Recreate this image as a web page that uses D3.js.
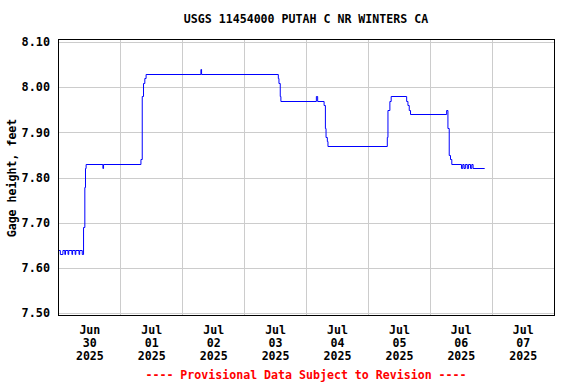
<!DOCTYPE html>
<html>
<head>
<meta charset="utf-8">
<script src="https://cdn.jsdelivr.net/npm/d3@7"></script>
<style>
  body { margin: 0; background: #fff; }
  text { font-family: "DejaVu Sans Mono", monospace; font-weight: bold; }
</style>
</head>
<body>
<div class="gage-graph"></div>
<script>
// gage height readings, step changes only (value holds until next time)
var times = [
  "2025-06-30T00:00", "2025-06-30T00:45", "2025-06-30T01:45", "2025-06-30T02:30", "2025-06-30T02:45",
  "2025-06-30T03:45", "2025-06-30T04:00", "2025-06-30T05:15", "2025-06-30T05:30", "2025-06-30T06:30",
  "2025-06-30T06:45", "2025-06-30T08:00", "2025-06-30T08:15", "2025-06-30T09:15", "2025-06-30T09:45",
  "2025-06-30T10:15", "2025-06-30T10:30", "2025-06-30T10:45", "2025-06-30T17:15", "2025-06-30T17:30",
  "2025-07-01T08:00", "2025-07-01T08:30", "2025-07-01T09:00", "2025-07-01T09:30", "2025-07-01T10:00",
  "2025-07-02T07:15", "2025-07-02T07:30",
  "2025-07-03T13:15", "2025-07-03T13:30", "2025-07-03T14:00", "2025-07-03T14:15",
  "2025-07-04T04:00", "2025-07-04T04:30", "2025-07-04T07:00", "2025-07-04T07:30", "2025-07-04T07:45",
  "2025-07-04T08:15", "2025-07-04T08:30",
  "2025-07-05T07:30", "2025-07-05T07:45", "2025-07-05T08:30", "2025-07-05T09:00",
  "2025-07-05T15:00", "2025-07-05T15:30", "2025-07-05T16:00", "2025-07-05T16:30",
  "2025-07-06T06:30", "2025-07-06T07:00", "2025-07-06T07:30", "2025-07-06T08:00", "2025-07-06T08:30",
  "2025-07-06T12:15", "2025-07-06T12:45", "2025-07-06T13:15", "2025-07-06T13:45", "2025-07-06T14:30",
  "2025-07-06T15:00", "2025-07-06T15:45", "2025-07-06T16:15", "2025-07-06T16:45", "2025-07-06T21:15"
];
var gageHeight = [
  7.64, 7.63, 7.64, 7.63, 7.64,
  7.63, 7.64, 7.63, 7.64, 7.63,
  7.64, 7.63, 7.64, 7.63, 7.69,
  7.78, 7.82, 7.83, 7.82, 7.83,
  7.84, 7.98, 8.01, 8.02, 8.03,
  8.04, 8.03,
  8.02, 8.01, 7.98, 7.97,
  7.98, 7.97, 7.96, 7.91, 7.89,
  7.88, 7.87,
  7.89, 7.95, 7.97, 7.98,
  7.97, 7.96, 7.95, 7.94,
  7.95, 7.91, 7.85, 7.84, 7.83,
  7.82, 7.83, 7.82, 7.83, 7.82,
  7.83, 7.82, 7.83, 7.82, 7.82
];
var yTicks = [7.50, 7.60, 7.70, 7.80, 7.90, 8.00, 8.10];
var dayLabels = ["2025-06-30", "2025-07-01", "2025-07-02", "2025-07-03",
                 "2025-07-04", "2025-07-05", "2025-07-06", "2025-07-07"];

var parse = d3.timeParse("%Y-%m-%dT%H:%M");
var parseDay = d3.timeParse("%Y-%m-%d");
var data = times.map(function (t, i) { return { t: parse(t), v: gageHeight[i] }; });

var width = 576, height = 384;
var plotLeft = 58, plotRight = 554, plotTop = 39, plotBottom = 315;

var svg = d3.select(".gage-graph").append("svg")
    .attr("width", width)
    .attr("height", height);

var x = d3.scaleTime()
    .domain([parseDay("2025-06-30"), parseDay("2025-07-08")])
    .range([plotLeft + 0.4, plotRight - 0.3]);
var y = d3.scaleLinear().domain([7.5, 8.1]).range([313, 42]);

//grid
var midnights = d3.timeDay.range(parseDay("2025-07-01"), parseDay("2025-07-08"));
svg.append("g").selectAll("line").data(midnights).enter().append("line")
    .attr("x1", function (d) { return Math.round(x(d)) + 0.5; })
    .attr("x2", function (d) { return Math.round(x(d)) + 0.5; })
    .attr("y1", plotTop).attr("y2", plotBottom)
    .attr("stroke", "#cccccc");
svg.append("g").selectAll("line").data(yTicks).enter().append("line")
    .attr("x1", plotLeft).attr("x2", plotRight)
    .attr("y1", function (d) { return Math.round(y(d)) + 0.5; })
    .attr("y2", function (d) { return Math.round(y(d)) + 0.5; })
    .attr("stroke", "#cccccc");

//series
var line = d3.line()
    .x(function (d) { return x(d.t); })
    .y(function (d) { return Math.round(y(d.v)) + 0.5; })
    .curve(d3.curveStepAfter);
svg.append("path").datum(data)
    .attr("d", line)
    .attr("fill", "none")
    .attr("stroke", "#0000ff")
    .attr("stroke-width", 1);

//frame
svg.append("rect")
    .attr("x", plotLeft + 0.5).attr("y", plotTop + 0.5)
    .attr("width", plotRight - plotLeft).attr("height", plotBottom - plotTop)
    .attr("fill", "none").attr("stroke", "#000");

//y axis labels
var yAxis = d3.axisLeft(y).tickValues(yTicks).tickFormat(d3.format(".2f")).tickSize(0).tickPadding(8);
var gy = svg.append("g").attr("transform", "translate(" + plotLeft + ",0)").call(yAxis);
gy.select(".domain").remove();
gy.selectAll("text").attr("font-size", 11.8).attr("font-family", null).attr("fill", "#000");

//x axis labels at noon of each day
var noons = dayLabels.map(function (d) { return d3.timeHour.offset(parseDay(d), 12); });
var xAxis = d3.axisBottom(x).tickValues(noons).tickSize(0).tickFormat("");
var gx = svg.append("g").attr("transform", "translate(0," + plotBottom + ")").call(xAxis);
gx.select(".domain").remove();
var fmt = [d3.timeFormat("%b"), d3.timeFormat("%d"), d3.timeFormat("%Y")];
gx.selectAll(".tick text").attr("font-family", null).attr("font-size", 11.6).attr("fill", "#000")
    .attr("y", 0).attr("dy", null)
    .each(function (d) {
        var t = d3.select(this);
        fmt.forEach(function (f, i) {
            t.append("tspan").attr("x", 0).attr("y", 19 + i * 13).text(f(d));
        });
    });

//titles
svg.append("text").attr("x", 306).attr("y", 23)
    .attr("text-anchor", "middle").attr("font-size", 11.6)
    .text("USGS 11454000 PUTAH C NR WINTERS CA");
svg.append("text")
    .attr("transform", "translate(16,178) rotate(-90)")
    .attr("text-anchor", "middle").attr("font-size", 11.6)
    .text("Gage height, feet");
svg.append("text").attr("x", 306).attr("y", 379)
    .attr("text-anchor", "middle").attr("font-size", 11.6).attr("fill", "#ff0000")
    .text("---- Provisional Data Subject to Revision ----");
</script>
</body>
</html>
